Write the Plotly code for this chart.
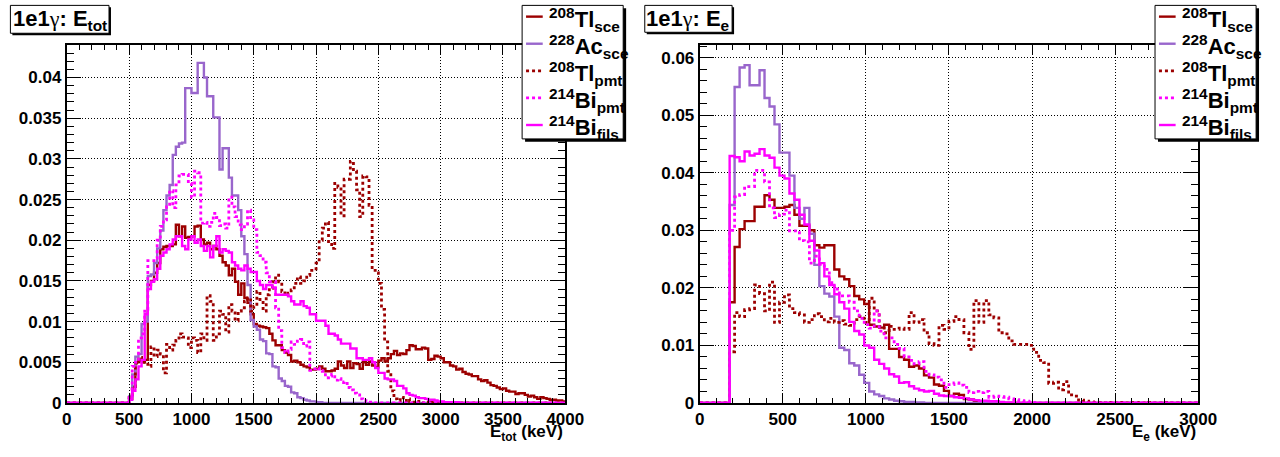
import plotly.graph_objects as go

W, H = 1280, 457

# ---------------- E_tot panel: 25 keV bins, values listed from 500 keV ----------------
ETOT_BIN = 25
ETOT_START = 500
ETOT_RANGE = (0, 4000)

tl_sce_tot = [
    0.0005, 0.0020, 0.0050, 0.0052, 0.0050, 0.0053, 0.0145, 0.0150, 0.0160, 0.0172,
    0.0189, 0.0192, 0.0193, 0.0193, 0.0195, 0.0219, 0.0205, 0.0217, 0.0203, 0.0204,
    0.0205, 0.0217, 0.0218, 0.0201, 0.0195, 0.0197, 0.0189, 0.0193, 0.0189, 0.0181,
    0.0173, 0.0169, 0.0157, 0.0165, 0.0149, 0.0133, 0.0147, 0.0129, 0.0123, 0.0109,
    0.0097, 0.0095, 0.0094, 0.0093, 0.0092, 0.0085, 0.0077, 0.0071, 0.0071, 0.0065,
    0.0062, 0.0059, 0.0051, 0.0052, 0.0050, 0.0047, 0.0045, 0.0044, 0.0041, 0.0041,
    0.0042, 0.0045, 0.0042, 0.0039, 0.0039, 0.0040, 0.0042, 0.0051, 0.0046, 0.0043,
    0.0051, 0.0043, 0.0049, 0.0048, 0.0042, 0.0050, 0.0047, 0.0051, 0.0046, 0.0044,
    0.0052, 0.0055, 0.0051, 0.0055, 0.0060, 0.0064, 0.0059, 0.0061, 0.0060, 0.0065,
    0.0071, 0.0070, 0.0066, 0.0066, 0.0068, 0.0067, 0.0053, 0.0054, 0.0058, 0.0057,
    0.0055, 0.0050, 0.0050, 0.0046, 0.0045, 0.0041, 0.0042, 0.0038, 0.0036, 0.0035,
    0.0033, 0.0033, 0.0029, 0.0027, 0.0028, 0.0025, 0.0022, 0.0021, 0.0019, 0.0017,
    0.0018, 0.0015, 0.0014, 0.0014, 0.0011, 0.0012, 0.0012, 0.0010, 0.0008, 0.0009,
    0.0007, 0.0005, 0.0007, 0.0006, 0.0005, 0.0004, 0.0004, 0.0003, 0.0003, 0.0002,
]
ac_sce_tot = [
    0.0008, 0.0035, 0.0057, 0.0060, 0.0097, 0.0100, 0.0156, 0.0158, 0.0172, 0.0190,
    0.0212, 0.0237, 0.0255, 0.0268, 0.0305, 0.0315, 0.0319, 0.0320, 0.0387, 0.0387,
    0.0381, 0.0381, 0.0418, 0.0418, 0.0400, 0.0377, 0.0377, 0.0351, 0.0351, 0.0287,
    0.0313, 0.0313, 0.0277, 0.0255, 0.0255, 0.0237, 0.0205, 0.0183, 0.0145, 0.0102,
    0.0094, 0.0090, 0.0078, 0.0076, 0.0061, 0.0060, 0.0045, 0.0044, 0.0030, 0.0027,
    0.0021, 0.0020, 0.0013, 0.0012, 0.0007, 0.0006, 0.0004, 0.0003, 0.0002, 0.0002,
    0.0001, 0.0001,
]
tl_pmt_tot = [
    0.0010, 0.0020, 0.0049, 0.0056, 0.0052, 0.0050, 0.0045, 0.0069, 0.0057, 0.0065,
    0.0060, 0.0037, 0.0072, 0.0065, 0.0071, 0.0077, 0.0085, 0.0081, 0.0080, 0.0068,
    0.0080, 0.0077, 0.0062, 0.0085, 0.0077, 0.0132, 0.0125, 0.0077, 0.0085, 0.0113,
    0.0109, 0.0087, 0.0121, 0.0113, 0.0101, 0.0113, 0.0117, 0.0125, 0.0129, 0.0113,
    0.0119, 0.0137, 0.0127, 0.0113, 0.0133, 0.0141, 0.0149, 0.0157, 0.0149, 0.0137,
    0.0133, 0.0135, 0.0139, 0.0147, 0.0155, 0.0147, 0.0150, 0.0157, 0.0163, 0.0163,
    0.0172, 0.0200, 0.0215, 0.0222, 0.0195, 0.0190, 0.0270, 0.0265, 0.0230, 0.0275,
    0.0275, 0.0297, 0.0285, 0.0262, 0.0229, 0.0279, 0.0278, 0.0243, 0.0163, 0.0160,
    0.0147, 0.0115, 0.0075, 0.0039, 0.0015, 0.0005, 0.0003, 0.0007, 0.0003, 0.0005,
    0.0002, 0.0001, 0.0002, 0.0001, 0.0000, 0.0001, 0.0000, 0.0001,
]
bi_pmt_tot = [
    0.0009, 0.0045, 0.0050, 0.0080, 0.0085, 0.0115, 0.0175, 0.0175, 0.0178, 0.0200,
    0.0217, 0.0225, 0.0241, 0.0261, 0.0240, 0.0268, 0.0279, 0.0281, 0.0281, 0.0270,
    0.0253, 0.0285, 0.0283, 0.0221, 0.0222, 0.0217, 0.0222, 0.0233, 0.0228, 0.0218,
    0.0220, 0.0215, 0.0253, 0.0241, 0.0229, 0.0219, 0.0213, 0.0220, 0.0237, 0.0225,
    0.0213, 0.0185, 0.0181, 0.0173, 0.0160, 0.0149, 0.0149, 0.0117, 0.0089, 0.0068,
    0.0062, 0.0066, 0.0075, 0.0072, 0.0076, 0.0078, 0.0070, 0.0075, 0.0040, 0.0042,
    0.0043, 0.0040, 0.0039, 0.0031, 0.0033, 0.0035, 0.0028, 0.0030, 0.0025, 0.0026,
    0.0019, 0.0016, 0.0012, 0.0010, 0.0005, 0.0003, 0.0002, 0.0001,
]
bi_fils_tot = [
    0.0004, 0.0015, 0.0029, 0.0045, 0.0053, 0.0109, 0.0140, 0.0149, 0.0152, 0.0165,
    0.0181, 0.0185, 0.0189, 0.0195, 0.0201, 0.0205, 0.0205, 0.0193, 0.0189, 0.0201,
    0.0205, 0.0197, 0.0201, 0.0193, 0.0187, 0.0193, 0.0179, 0.0193, 0.0205, 0.0185,
    0.0189, 0.0187, 0.0185, 0.0173, 0.0169, 0.0165, 0.0163, 0.0169, 0.0165, 0.0161,
    0.0161, 0.0150, 0.0145, 0.0140, 0.0145, 0.0145, 0.0142, 0.0133, 0.0133, 0.0133,
    0.0133, 0.0131, 0.0125, 0.0121, 0.0121, 0.0125, 0.0119, 0.0117, 0.0109, 0.0109,
    0.0101, 0.0101, 0.0101, 0.0095, 0.0085, 0.0085, 0.0083, 0.0078, 0.0073, 0.0073,
    0.0073, 0.0067, 0.0067, 0.0055, 0.0055, 0.0053, 0.0053, 0.0055, 0.0050, 0.0043,
    0.0037, 0.0037, 0.0030, 0.0029, 0.0029, 0.0027, 0.0021, 0.0021, 0.0018, 0.0012,
    0.0010, 0.0009, 0.0007, 0.0006, 0.0006, 0.0005, 0.0004, 0.0004, 0.0003, 0.0002,
    0.0002, 0.0001, 0.0001, 0.0001, 0.0001, 0.0001,
]

# ---------------- E_e panel: 30 keV bins, values listed from 180 keV ----------------
EE_BIN = 30
EE_START = 180
EE_RANGE = (0, 3000)

tl_sce_e = [
    0.0175, 0.0271, 0.0302, 0.0316, 0.0316, 0.0341, 0.0341, 0.0361, 0.0353, 0.0339,
    0.0339, 0.0341, 0.0344, 0.0327, 0.0308, 0.0308, 0.0300, 0.0274, 0.0270, 0.0274,
    0.0274, 0.0232, 0.0220, 0.0215, 0.0203, 0.0186, 0.0180, 0.0172, 0.0136, 0.0133,
    0.0131, 0.0136, 0.0094, 0.0094, 0.0080, 0.0075, 0.0063, 0.0065, 0.0060, 0.0048,
    0.0044, 0.0032, 0.0030, 0.0021, 0.0012, 0.0016, 0.0014, 0.0007, 0.0006, 0.0004,
    0.0003, 0.0002, 0.0001,
]
ac_sce_e = [
    0.0344, 0.0549, 0.0583, 0.0587, 0.0552, 0.0552, 0.0578, 0.0530, 0.0515, 0.0484,
    0.0435, 0.0435, 0.0395, 0.0339, 0.0320, 0.0339, 0.0294, 0.0240, 0.0203, 0.0190,
    0.0185, 0.0150, 0.0096, 0.0092, 0.0069, 0.0065, 0.0049, 0.0035, 0.0020, 0.0015,
    0.0012, 0.0008, 0.0006, 0.0004, 0.0003, 0.0002, 0.0002, 0.0001, 0.0001,
]
tl_pmt_e = [
    0.0089, 0.0157, 0.0150, 0.0162, 0.0164, 0.0205, 0.0190, 0.0160, 0.0210, 0.0140,
    0.0175, 0.0188, 0.0164, 0.0157, 0.0153, 0.0140, 0.0145, 0.0155, 0.0150, 0.0141,
    0.0147, 0.0140, 0.0143, 0.0137, 0.0135, 0.0145, 0.0150, 0.0140, 0.0182, 0.0160,
    0.0133, 0.0122, 0.0133, 0.0128, 0.0130, 0.0128, 0.0157, 0.0140, 0.0145, 0.0122,
    0.0103, 0.0100, 0.0135, 0.0128, 0.0142, 0.0150, 0.0145, 0.0122, 0.0093, 0.0178,
    0.0140, 0.0178, 0.0153, 0.0148, 0.0122, 0.0120, 0.0108, 0.0102, 0.0102, 0.0102,
    0.0100, 0.0088, 0.0074, 0.0070, 0.0034, 0.0036, 0.0023, 0.0037, 0.0014, 0.0012,
    0.0005, 0.0003, 0.0002, 0.0001, 0.0001, 0.0000, 0.0001, 0.0000, 0.0001, 0.0000,
    0.0000, 0.0001, 0.0000, 0.0000, 0.0001, 0.0000, 0.0000, 0.0001,
]
bi_pmt_e = [
    0.0300, 0.0358, 0.0362, 0.0376, 0.0376, 0.0404, 0.0404, 0.0384, 0.0339, 0.0322,
    0.0328, 0.0335, 0.0299, 0.0299, 0.0282, 0.0280, 0.0243, 0.0255, 0.0241, 0.0232,
    0.0209, 0.0198, 0.0186, 0.0186, 0.0175, 0.0160, 0.0147, 0.0136, 0.0130, 0.0160,
    0.0125, 0.0113, 0.0113, 0.0102, 0.0095, 0.0080, 0.0074, 0.0068, 0.0072, 0.0055,
    0.0049, 0.0045, 0.0040, 0.0027, 0.0032, 0.0035, 0.0031, 0.0027, 0.0018, 0.0020,
    0.0018, 0.0020, 0.0010, 0.0012, 0.0011, 0.0010, 0.0007, 0.0006, 0.0004, 0.0003,
    0.0002, 0.0001,
]
bi_fils_e = [
    0.0429, 0.0427, 0.0420, 0.0437, 0.0430, 0.0433, 0.0441, 0.0430, 0.0426, 0.0409,
    0.0395, 0.0390, 0.0364, 0.0353, 0.0327, 0.0310, 0.0282, 0.0265, 0.0243, 0.0220,
    0.0205, 0.0189, 0.0175, 0.0164, 0.0141, 0.0125, 0.0119, 0.0100, 0.0096, 0.0075,
    0.0068, 0.0060, 0.0050, 0.0046, 0.0035, 0.0036, 0.0029, 0.0025, 0.0022, 0.0020,
    0.0021, 0.0016, 0.0013, 0.0012, 0.0012, 0.0010, 0.0009, 0.0008, 0.0006, 0.0005,
    0.0004, 0.0004, 0.0003, 0.0003, 0.0002, 0.0001, 0.0001,
]

# ---------------- legend / style tables ----------------
leg_sup = ["208", "228", "208", "214", "214"]
leg_sym = ["Tl", "Ac", "Tl", "Bi", "Bi"]
leg_sub = ["sce", "sce", "pmt", "pmt", "fils"]
colors = ["#9c0000", "#9966cc", "#9c0000", "#ff00ff", "#ff00ff"]
dashes = ["solid", "solid", "3px,3px", "3px,3px", "solid"]
widths = [2.4, 2.4, 2.8, 2.8, 2.4]

FONT = "Liberation Sans"
GAMMA = "<span style=\"font-family:'Liberation Serif';font-weight:normal\">γ</span>"


def hist_steps(start, width, values, rng):
    lo, hi = rng
    n_total = int(round((hi - lo) / width))
    n_before = int(round((start - lo) / width))
    vals = [0.0] * n_before + list(values)
    vals = vals[:n_total] + [0.0] * max(0, n_total - len(vals))
    edges = [lo + i * width for i in range(n_total + 1)]
    return edges, vals + [vals[-1]]


def px(x):  # page pixel -> paper fraction
    return x / W


def py(y):
    return 1 - y / H


fig = go.Figure()

panels = [
    dict(xa="x", ya="y", start=ETOT_START, width=ETOT_BIN, rng=ETOT_RANGE,
         data=[tl_sce_tot, ac_sce_tot, tl_pmt_tot, bi_pmt_tot, bi_fils_tot]),
    dict(xa="x2", ya="y2", start=EE_START, width=EE_BIN, rng=EE_RANGE,
         data=[tl_sce_e, ac_sce_e, tl_pmt_e, bi_pmt_e, bi_fils_e]),
]

for p in panels:
    for k, vals in enumerate(p["data"]):
        xs, ys = hist_steps(p["start"], p["width"], vals, p["rng"])
        fig.add_trace(go.Scatter(
            x=xs, y=ys, mode="lines", line_shape="hv",
            line=dict(color=colors[k], width=widths[k], dash=dashes[k]),
            xaxis=p["xa"], yaxis=p["ya"], showlegend=False, hoverinfo="skip",
        ))

axis_common = dict(
    showline=True, linecolor="black", linewidth=2, mirror="ticks",
    showgrid=True, gridcolor="black", gridwidth=1, griddash="1px,2px",
    zeroline=False, ticks="inside", tickcolor="black", tickwidth=1,
    tickfont=dict(family=FONT, size=17, color="black", weight="bold"),
)

ydom = [py(412), py(46)]

fig.update_layout(
    width=W, height=H, margin=dict(l=0, r=0, t=0, b=0),
    paper_bgcolor="white", plot_bgcolor="white", showlegend=False,
    xaxis=dict(domain=[px(63), px(571)], range=[0, 4000],
               tickvals=list(range(0, 4001, 500)), ticklen=9,
               minor=dict(dtick=100, ticklen=5, ticks="inside", tickcolor="black", showgrid=False),
               anchor="y", **axis_common),
    yaxis=dict(domain=ydom, range=[0, 0.0440],
               tickvals=[0, 0.005, 0.01, 0.015, 0.02, 0.025, 0.03, 0.035, 0.04],
               ticktext=["0", "0.005", "0.01", "0.015", "0.02", "0.025", "0.03", "0.035", "0.04"],
               ticklen=14,
               minor=dict(dtick=0.001, ticklen=7, ticks="inside", tickcolor="black", showgrid=False),
               anchor="x", **axis_common),
    xaxis2=dict(domain=[px(708), px(1216)], range=[0, 3000],
                tickvals=list(range(0, 3001, 500)), ticklen=9,
                minor=dict(dtick=100, ticklen=5, ticks="inside", tickcolor="black", showgrid=False),
                anchor="y2", **axis_common),
    yaxis2=dict(domain=ydom, range=[0, 0.0622],
                tickvals=[0, 0.01, 0.02, 0.03, 0.04, 0.05, 0.06],
                ticktext=["0", "0.01", "0.02", "0.03", "0.04", "0.05", "0.06"],
                ticklen=14,
                minor=dict(dtick=0.002, ticklen=7, ticks="inside", tickcolor="black", showgrid=False),
                anchor="x2", **axis_common),
)

shapes = []
annotations = []


def box_with_shadow(x0, y0, x1, y1, sh=3):
    shapes.append(dict(type="rect", xref="paper", yref="paper",
                       x0=px(x0 + sh), x1=px(x1 + sh), y0=py(y1 + sh), y1=py(y0 + sh),
                       fillcolor="black", line=dict(width=0), layer="above"))
    shapes.append(dict(type="rect", xref="paper", yref="paper",
                       x0=px(x0), x1=px(x1), y0=py(y1), y1=py(y0),
                       fillcolor="white", line=dict(color="black", width=1), layer="above"))


# title boxes
titles = [("1e1" + GAMMA + ": E<sub>tot</sub>", (5.5, 5.5, 106, 34)),
          ("1e1" + GAMMA + ": E<sub>e</sub>", (652, 5.5, 741, 33))]
for text, (x0, y0, x1, y1) in titles:
    box_with_shadow(x0, y0, x1, y1, sh=2)
    annotations.append(dict(text=text, xref="paper", yref="paper",
                            x=px((x0 + x1) / 2), y=py((y0 + y1) / 2 + 1),
                            xanchor="center", yanchor="middle", showarrow=False,
                            font=dict(family=FONT, size=22, color="black", weight="bold")))

# axis titles
xtitles = [("E<sub>tot</sub> (keV)", 571), ("E<sub>e</sub> (keV)", 1216)]
for text, xr in xtitles:
    annotations.append(dict(text=text, xref="paper", yref="paper",
                            x=px(xr), y=py(443), xanchor="right", yanchor="middle",
                            showarrow=False,
                            font=dict(family=FONT, size=17, color="black", weight="bold")))

# legends
for lx, ly in [(527, 5.5), (1172, 5.5)]:
    box_with_shadow(lx, ly, lx + 103, 142, sh=3)
    for k in range(5):
        cy = 17 + 27.7 * k
        shapes.append(dict(type="line", xref="paper", yref="paper",
                           x0=px(lx + 4), x1=px(lx + 21), y0=py(cy), y1=py(cy),
                           line=dict(color=colors[k], width=widths[k], dash=dashes[k]),
                           layer="above"))
        annotations.append(dict(
            text=f"<sup>{leg_sup[k]}</sup>{leg_sym[k]}<sub>{leg_sub[k]}</sub>",
            xref="paper", yref="paper", x=px(lx + 25), y=py(cy + 3),
            xanchor="left", yanchor="middle", showarrow=False,
            font=dict(family=FONT, size=22, color="black", weight="bold")))

fig.update_layout(shapes=shapes, annotations=annotations)

fig.write_html("out.html", config={"displayModeBar": False},
               post_script="document.body.style.margin='0';document.body.style.overflow='hidden';")
